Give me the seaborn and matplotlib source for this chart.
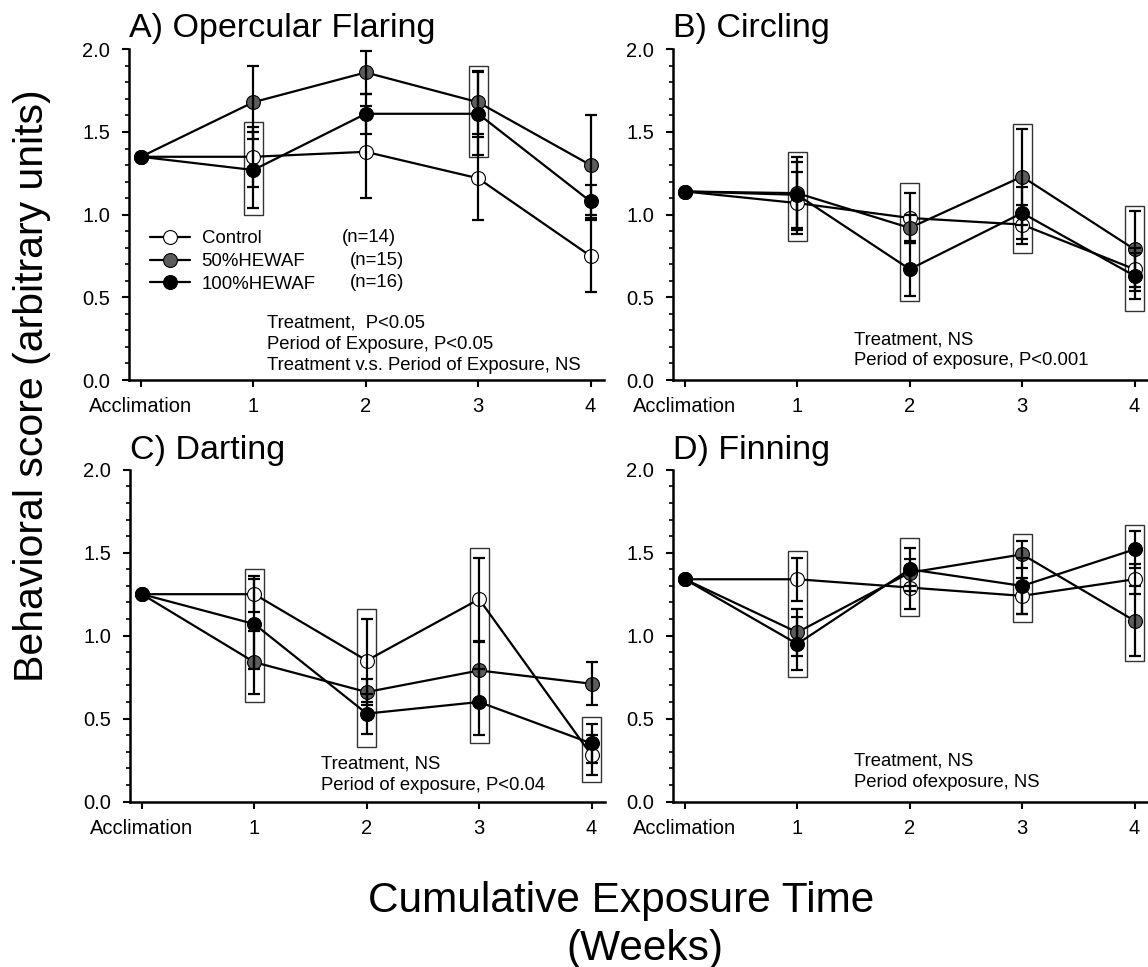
import numpy as np
import pandas as pd
import matplotlib
matplotlib.use('Agg')
import matplotlib.pyplot as plt
import seaborn as sns
from matplotlib.patches import Rectangle
from matplotlib.ticker import MultipleLocator, FixedLocator

# ---------------- data ----------------
weeks = [0, 1, 2, 3, 4]
week_labels = ['Acclimation', '1', '2', '3', '4']
groups = ['Control', '50%HEWAF', '100%HEWAF']
group_n = ['(n=14)', '(n=15)', '(n=16)']
titles = ['A) Opercular Flaring', 'B) Circling', 'C) Darting', 'D) Finning']
stats_text = [
    'Treatment,  P<0.05\nPeriod of Exposure, P<0.05\nTreatment v.s. Period of Exposure, NS',
    'Treatment, NS\nPeriod of exposure, P<0.001',
    'Treatment, NS\nPeriod of exposure, P<0.04',
    'Treatment, NS\nPeriod ofexposure, NS',
]

# A) Opercular flaring
a_ctrl = [1.35, 1.35, 1.38, 1.22, 0.75]
a_ctrl_se = [0, 0.18, 0.28, 0.25, 0.22]
a_50 = [1.35, 1.68, 1.86, 1.68, 1.30]
a_50_se = [0, 0.22, 0.13, 0.19, 0.30]
a_100 = [1.35, 1.27, 1.61, 1.61, 1.08]
a_100_se = [0, 0.23, 0.12, 0.25, 0.10]

# B) Circling
b_ctrl = [1.14, 1.07, 0.98, 0.94, 0.67]
b_ctrl_se = [0, 0.19, 0.15, 0.12, 0.13]
b_50 = [1.14, 1.13, 0.92, 1.23, 0.79]
b_50_se = [0, 0.22, 0.08, 0.29, 0.23]
b_100 = [1.14, 1.12, 0.67, 1.01, 0.63]
b_100_se = [0, 0.20, 0.16, 0.16, 0.14]

# C) Darting
c_ctrl = [1.25, 1.25, 0.85, 1.22, 0.28]
c_ctrl_se = [0, 0.11, 0.25, 0.25, 0.12]
c_50 = [1.25, 0.84, 0.66, 0.79, 0.71]
c_50_se = [0, 0.19, 0.08, 0.17, 0.13]
c_100 = [1.25, 1.07, 0.53, 0.60, 0.35]
c_100_se = [0, 0.27, 0.12, 0.20, 0.12]

# D) Finning
d_ctrl = [1.34, 1.34, 1.29, 1.24, 1.34]
d_ctrl_se = [0, 0.13, 0.13, 0.11, 0.09]
d_50 = [1.34, 1.02, 1.38, 1.49, 1.09]
d_50_se = [0, 0.14, 0.08, 0.08, 0.21]
d_100 = [1.34, 0.95, 1.40, 1.30, 1.52]
d_100_se = [0, 0.16, 0.13, 0.17, 0.11]

# significance boxes: week, lower, upper
a_box_week = [1, 3]
a_box_lo = [1.00, 1.35]
a_box_hi = [1.56, 1.90]
b_box_week = [1, 2, 3, 4]
b_box_lo = [0.84, 0.48, 0.77, 0.42]
b_box_hi = [1.38, 1.19, 1.55, 1.05]
c_box_week = [1, 2, 3, 4]
c_box_lo = [0.60, 0.33, 0.35, 0.12]
c_box_hi = [1.40, 1.16, 1.53, 0.51]
d_box_week = [1, 2, 3, 4]
d_box_lo = [0.75, 1.12, 1.08, 0.85]
d_box_hi = [1.51, 1.59, 1.61, 1.67]

panels = [
    (a_ctrl, a_ctrl_se, a_50, a_50_se, a_100, a_100_se, a_box_week, a_box_lo, a_box_hi),
    (b_ctrl, b_ctrl_se, b_50, b_50_se, b_100, b_100_se, b_box_week, b_box_lo, b_box_hi),
    (c_ctrl, c_ctrl_se, c_50, c_50_se, c_100, c_100_se, c_box_week, c_box_lo, c_box_hi),
    (d_ctrl, d_ctrl_se, d_50, d_50_se, d_100, d_100_se, d_box_week, d_box_lo, d_box_hi),
]

# ---------------- style ----------------
sns.set_style('ticks')
plt.rcParams['font.family'] = ['Liberation Sans', 'DejaVu Sans']
plt.rcParams['text.color'] = 'black'
plt.rcParams['axes.labelcolor'] = 'black'
plt.rcParams['xtick.color'] = 'black'
plt.rcParams['ytick.color'] = 'black'
plt.rcParams['axes.edgecolor'] = 'black'

W, H = 1148, 967
fig = plt.figure(figsize=(W / 100, H / 100), dpi=100)

face_colors = ['white', '#5c5c5c', 'black']
# axes rectangles in pixels: left, top, right, bottom
ax_px = [(129, 49.3, 604, 380), (673, 49.3, 1148, 380),
         (130, 469.8, 605, 801.5), (673, 469.8, 1148, 801.5)]
stats_pos = [(0.29, 0.030), (0.38, 0.044), (0.402, 0.034), (0.381, 0.044)]
title_pad = [9, 9, 7.5, 8]

for i, (pan, px) in enumerate(zip(panels, ax_px)):
    l, t, r, b = px
    ax = fig.add_axes([l / W, 1 - b / H, (r - l) / W, (b - t) / H])
    means = [pan[0], pan[2], pan[4]]
    ses = [pan[1], pan[3], pan[5]]
    df = pd.DataFrame({
        'week': weeks * 3,
        'score': sum(means, []),
        'se': sum(ses, []),
        'group': np.repeat(groups, len(weeks)),
    })
    # boxes
    for wk, lo, hi in zip(pan[6], pan[7], pan[8]):
        bw = 0.17
        ax.add_patch(Rectangle((wk - bw / 2, lo), bw, hi - lo, fill=False,
                               ec='#333333', lw=1.0, zorder=1.5))
    for g, fc in zip(groups, face_colors):
        sub = df[df['group'] == g]
        sns.lineplot(data=sub, x='week', y='score', ax=ax, color='black',
                     lw=1.6, marker='o', markersize=10, markerfacecolor=fc,
                     markeredgecolor='black', markeredgewidth=0.8,
                     label=g, legend=False, zorder=2, errorbar=None)
    for g in groups:
        sub = df[(df['group'] == g) & (df['se'] > 0)]
        ax.errorbar(sub['week'], sub['score'], yerr=sub['se'], fmt='none',
                    ecolor='black', elinewidth=1.6, capsize=4.2, capthick=1.6,
                    zorder=4)
    ax.set_xlim(-0.106, 4.12)
    ax.set_ylim(0, 2.0)
    ax.xaxis.set_major_locator(FixedLocator(weeks))
    ax.set_xticklabels(week_labels)
    ax.yaxis.set_major_locator(MultipleLocator(0.5))
    ax.yaxis.set_minor_locator(MultipleLocator(0.1))
    ax.yaxis.set_major_formatter(matplotlib.ticker.FormatStrFormatter('%.1f'))
    ax.set_xlabel('')
    ax.set_ylabel('')
    sns.despine(ax=ax)
    for s in ['left', 'bottom']:
        ax.spines[s].set_linewidth(1.8)
    ax.tick_params(axis='both', which='major', direction='out', length=5,
                   width=1.5, labelsize=14.5, color='black')
    ax.tick_params(axis='y', which='major', pad=8.5)
    ax.tick_params(axis='x', which='major', pad=7.5)
    ax.tick_params(axis='y', which='minor', direction='out', length=3.2,
                   width=1.2, color='black')
    ax.set_title(titles[i], loc='left', fontsize=24.5, pad=title_pad[i])
    ax.text(stats_pos[i][0], stats_pos[i][1], stats_text[i],
            transform=ax.transAxes, ha='left', va='baseline', fontsize=13.3,
            linespacing=1.33)
    if i == 0:
        ax.legend(loc='upper left', bbox_to_anchor=(0.045, 0.453), frameon=False,
                  fontsize=13.4, handlelength=2.15, handletextpad=0.6,
                  labelspacing=0.31, borderaxespad=0, borderpad=0)
        n_x = [0.449, 0.466, 0.466]
        n_y = [0.430, 0.361, 0.294]
        for nx, ny, nt in zip(n_x, n_y, group_n):
            ax.text(nx, ny, nt, transform=ax.transAxes, ha='left',
                    va='center', fontsize=13.4)

fig.text(0.028, 0.601, 'Behavioral score (arbitrary units)', rotation=90,
         ha='center', va='center', fontsize=29.5)
fig.text(621 / W, 1 - 912 / H, 'Cumulative Exposure Time', ha='center',
         va='baseline', fontsize=30.5)
fig.text(645 / W, 1 - 960 / H, '(Weeks)', ha='center', va='baseline',
         fontsize=30.5)

fig.savefig('out.png', dpi=100)
